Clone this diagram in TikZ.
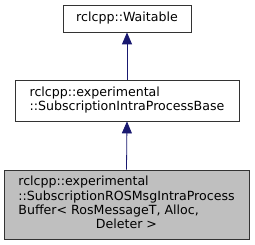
\documentclass[tikz,border=0pt]{standalone}
\usepackage{fontspec}
\setmainfont{DejaVu Sans}
\usepackage{xcolor}
\usetikzlibrary{positioning, arrows.meta}
\definecolor{edgeblue}{HTML}{191970}
\definecolor{fillgray}{HTML}{BFBFBF}

\begin{document}
\begin{tikzpicture}[
  x=1pt, y=1pt,
  font=\fontsize{12.6}{14.3}\selectfont,
  box/.style={draw=black!80, line width=0.8pt, inner sep=0pt, align=center},
  base/.style={box, fill=white},
  current/.style={box, fill=fillgray},
  inherit/.style={{Triangle[length=12pt,width=10pt]}-, edgeblue, line width=0.8pt},
]
\useasboundingbox (0,0) rectangle (255,-245);
\node[base, minimum width=128, minimum height=27] (waitable) at (127,-18.5) {rclcpp::Waitable};
\node[base, minimum width=224, minimum height=41] (ipbase) at (127,-100.5)
  {\begin{tabular}{@{}l@{}}rclcpp::experimental\\::SubscriptionIntraProcessBase\end{tabular}};
\node[current, minimum width=245, minimum height=69] (rosbuf) at (126.5,-204.5)
  {\begin{tabular}{@{}l@{}}rclcpp::experimental\\::SubscriptionROSMsgIntraProcess\\Buffer< RosMessageT, Alloc,\\\multicolumn{1}{@{}c@{}}{Deleter >}\end{tabular}};

\draw[inherit] (waitable.south) -- (ipbase.north);
\draw[inherit] (ipbase.south) -- (rosbuf.north);
\end{tikzpicture}
\end{document}
